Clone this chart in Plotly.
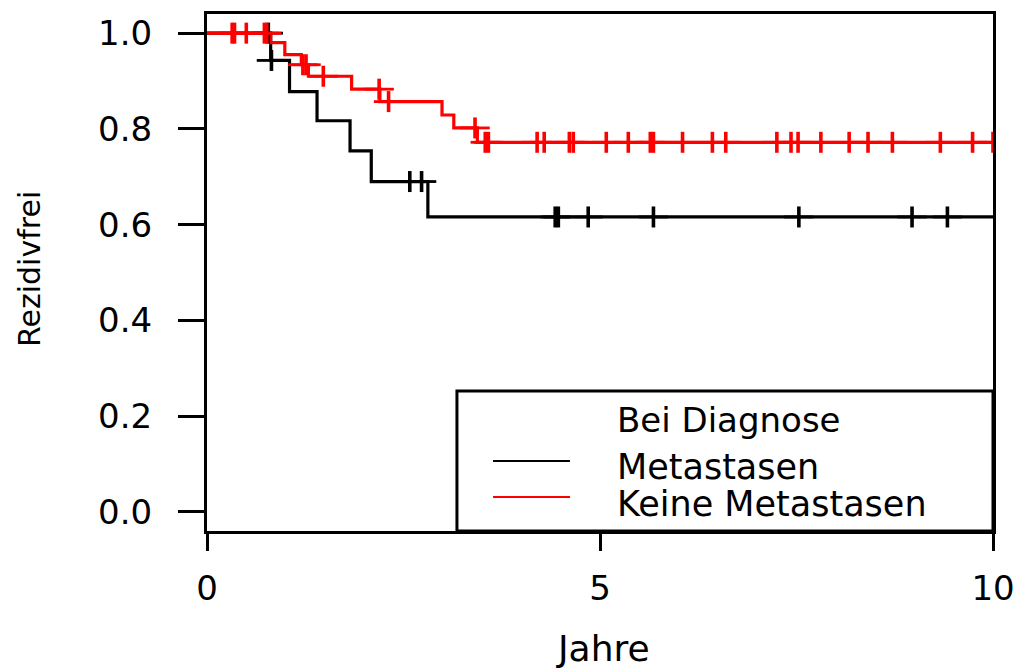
import numpy as np
import plotly.graph_objects as go

# Kaplan-Meier estimates, relapse-free survival by metastasis status at diagnosis
# Group "Metastasen"
met_event_times = [0.81, 1.05, 1.40, 1.82, 2.09, 2.81]
met_surv = [0.943, 0.878, 0.817, 0.754, 0.690, 0.616]
met_censor_times = [0.78, 0.82, 2.58, 2.73, 4.43, 4.47, 4.85, 5.68, 7.53, 8.97, 9.42]
met_followup_end = 10.3

# Group "Keine Metastasen"
keine_event_times = [0.81, 0.99, 1.20, 1.29, 1.84, 2.20, 2.99, 3.14, 3.44]
keine_surv = [0.980, 0.955, 0.934, 0.910, 0.883, 0.857, 0.829, 0.802, 0.772]
keine_censor_times = [0.32, 0.35, 0.50, 0.73, 0.76, 1.22, 1.26, 1.48, 2.19, 2.31,
                      3.41, 3.54, 3.58, 4.20, 4.29, 4.61, 4.66, 5.08, 5.36, 5.64,
                      5.68, 6.05, 6.43, 6.60, 7.25, 7.43, 7.52, 7.81, 8.17, 8.41,
                      8.72, 9.33, 9.74, 10.0]
keine_followup_end = 10.3

group_names = ["Metastasen", "Keine Metastasen"]
group_colors = ["#000000", "#ff0000"]

x_ticks = [0, 5, 10]
y_ticks = [0.0, 0.2, 0.4, 0.6, 0.8, 1.0]

FONT = "DejaVu Sans"


def step_curve(times, surv, end):
    xs = [0.0] + list(times) + [end]
    ys = [1.0] + list(surv) + [surv[-1]]
    return xs, ys


def surv_at(times, surv, t):
    idx = np.searchsorted(np.asarray(times), np.asarray(t), side="right")
    levels = np.concatenate([[1.0], surv])
    return levels[idx]


groups = [
    (met_event_times, met_surv, met_censor_times, met_followup_end),
    (keine_event_times, keine_surv, keine_censor_times, keine_followup_end),
]

fig = go.Figure()

# survival step lines
for (ev, sv, cens, end), name, col in zip(groups, group_names, group_colors):
    xs, ys = step_curve(ev, sv, end)
    fig.add_trace(go.Scatter(x=xs, y=ys, mode="lines", line_shape="hv",
                             line=dict(color=col, width=3.2), name=name,
                             showlegend=False, hoverinfo="skip"))

# censoring marks drawn as "+" (vertical and horizontal strokes)
for (ev, sv, cens, end), name, col in zip(groups, group_names, group_colors):
    cy = surv_at(ev, sv, cens)
    fig.add_trace(go.Scatter(x=cens, y=cy, mode="markers", showlegend=False,
                             hoverinfo="skip",
                             marker=dict(symbol="line-ew", size=21,
                                         line=dict(color=col, width=2.8))))
    fig.add_trace(go.Scatter(x=cens, y=cy, mode="markers", showlegend=False,
                             hoverinfo="skip",
                             marker=dict(symbol="line-ns", size=15,
                                         line=dict(color=col, width=3.6))))

axis_common = dict(showgrid=False, zeroline=False, showline=True, mirror=True,
                   linecolor="black", linewidth=3, ticks="outside",
                   tickcolor="black", tickwidth=3, automargin=False,
                   tickfont=dict(family=FONT, size=34, color="black"))

fig.update_xaxes(range=[0, 10], tickvals=x_ticks, ticktext=[str(v) for v in x_ticks],
                 ticklen=17, ticklabelstandoff=8, **axis_common)
fig.update_yaxes(range=[-0.04, 1.04], tickvals=y_ticks,
                 ticktext=[f"{v:.1f}" for v in y_ticks],
                 ticklen=26, ticklabelstandoff=19, **axis_common)

# legend panel in the lower right corner
shapes = [
    dict(type="rect", xref="paper", yref="paper", x0=0.318, x1=1.0, y0=0.0, y1=0.2708,
         line=dict(color="black", width=3), fillcolor="white", layer="above"),
]
legend_y = [0.1354, 0.0658]
for col, ly in zip(group_colors, legend_y):
    shapes.append(dict(type="line", xref="paper", yref="paper", x0=0.3639, x1=0.4618,
                       y0=ly, y1=ly, line=dict(color=col, width=2), layer="above"))

annotations = [
    dict(text="Bei Diagnose", xref="paper", yref="paper", x=0.664, y=0.2147,
         xanchor="center", yanchor="middle", showarrow=False,
         font=dict(family=FONT, size=34, color="black")),
]
for name, ty in zip(group_names, [0.1238, 0.0522]):
    annotations.append(dict(text=name, xref="paper", yref="paper", x=0.519, y=ty,
                            xanchor="left", yanchor="middle", showarrow=False,
                            font=dict(family=FONT, size=35, color="black")))

# axis titles
annotations.append(dict(text="Jahre", xref="paper", yref="paper", x=0.504, y=-0.2715,
                        xanchor="center", yanchor="bottom", showarrow=False,
                        font=dict(family=FONT, size=36, color="black")))
annotations.append(dict(text="Rezidivfrei", xref="paper", yref="paper", x=-0.2252,
                        y=0.5068, xanchor="center", yanchor="middle", textangle=-90,
                        showarrow=False, font=dict(family=FONT, size=30, color="black")))

fig.update_layout(width=1023, height=671,
                  margin=dict(l=207, r=30, t=14, b=140, autoexpand=False),
                  plot_bgcolor="white", paper_bgcolor="white",
                  shapes=shapes, annotations=annotations, showlegend=False)

fig.write_html("out.html")
